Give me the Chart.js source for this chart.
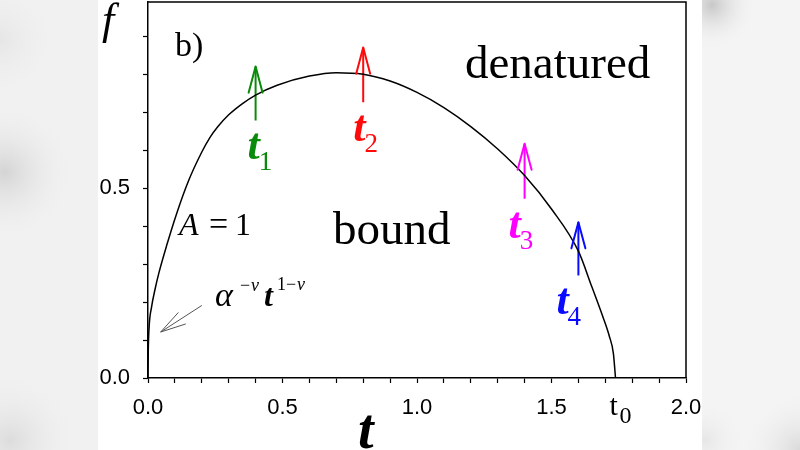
<!DOCTYPE html>
<html><head><meta charset="utf-8">
<script src="https://cdn.jsdelivr.net/npm/chart.js@4.4.1/dist/chart.umd.min.js"></script>
<style>html,body{margin:0;padding:0;background:#fff;overflow:hidden}#wrap{width:800px;height:450px}</style>
</head><body><div id="wrap"><canvas id="c" width="800" height="450"></canvas></div>
<script>
// ---- data ----
const tValues = [0, 0.001, 0.004, 0.013, 0.026, 0.041, 0.069, 0.107, 0.15, 0.2, 0.23, 0.26, 0.3, 0.35, 0.4, 0.48, 0.6, 0.7, 0.8, 0.9, 1.0, 1.1, 1.2, 1.3, 1.4, 1.5, 1.6, 1.65, 1.69, 1.715, 1.73, 1.738];
const fValues = [0, 0.07, 0.132, 0.186, 0.233, 0.278, 0.348, 0.434, 0.518, 0.595, 0.633, 0.662, 0.693, 0.722, 0.745, 0.771, 0.795, 0.804, 0.80, 0.782, 0.752, 0.712, 0.662, 0.603, 0.533, 0.445, 0.334, 0.24, 0.163, 0.11, 0.065, 0];
const arrowNames = ['1', '2', '3', '4'];
const arrowT = [0.4, 0.8, 1.4, 1.6];
const arrowBase = [0.678, 0.726, 0.472, 0.27];
const arrowTip = [0.82, 0.87, 0.617, 0.41];
const pointerFrom = [0.2, 0.191];
const pointerTo = [0.047, 0.121];
const t0Value = 1.738;
const xTickValues = [0, 0.1, 0.2, 0.3, 0.4, 0.5, 0.6, 0.7, 0.8, 0.9, 1.0, 1.1, 1.2, 1.3, 1.4, 1.5, 1.6, 1.7, 1.8, 1.9, 2.0];
const xTickLabelValues = [0, 0.5, 1.0, 1.5, 2.0];
const xTickLabels = ['0.0', '0.5', '1.0', '1.5', '2.0'];
const yTickValues = [0, 0.1, 0.2, 0.3, 0.4, 0.5, 0.6, 0.7, 0.8, 0.9];
const yTickLabelValues = [0, 0.5];
const yTickLabels = ['0.0', '0.5'];

// ---- styles ----
const arrowColors = ['#0a8a0a', '#ff0a0a', '#ff00ff', '#0a0aff'];
const labelDx = [-8, -10, -16, -22];
const SERIF = "'Liberation Serif', 'Times New Roman', serif";
const SANS = "'Liberation Sans', Arial, sans-serif";

function labelFor(v, vals, labels) {
  for (let i = 0; i < vals.length; i++) if (Math.abs(v - vals[i]) < 1e-6) return labels[i];
  return '';
}

const datasets = [{
  data: tValues.map((t, i) => ({x: t, y: fValues[i]})),
  borderColor: '#000', borderWidth: 1.5, pointRadius: 0, fill: false,
  cubicInterpolationMode: 'monotone'
}];
arrowT.forEach((t, i) => datasets.push({
  data: [{x: t, y: arrowBase[i]}, {x: t, y: arrowTip[i]}],
  borderColor: arrowColors[i], borderWidth: 2, pointRadius: 0, fill: false,
  arrowHead: 27, arrowLabel: arrowNames[i], labelIndex: i
}));
datasets.push({
  data: [{x: pointerFrom[0], y: pointerFrom[1]}, {x: pointerTo[0], y: pointerTo[1]}],
  borderColor: '#555', borderWidth: 1, pointRadius: 0, fill: false, arrowHead: 26
});

const bgPlugin = {
  id: 'bg',
  beforeDraw(chart) {
    const ctx = chart.ctx;
    ctx.save();
    ctx.fillStyle = '#fff';
    ctx.fillRect(0, 0, 800, 450);
    ctx.beginPath(); ctx.rect(0, 0, 98, 450); ctx.clip();
    ctx.fillStyle = '#f1f1f1'; ctx.fillRect(0, 0, 98, 450);
    const blobs = [[5, 172, 70, 'rgba(205,205,205,0.8)'], [10, 440, 70, 'rgba(215,215,215,0.8)'], [0, 40, 60, 'rgba(225,225,225,0.7)']];
    blobs.forEach(b => {
      const g = ctx.createRadialGradient(b[0], b[1], 0, b[0], b[1], b[2]);
      g.addColorStop(0, b[3]); g.addColorStop(1, 'rgba(241,241,241,0)');
      ctx.fillStyle = g; ctx.fillRect(0, 0, 98, 450);
    });
    ctx.restore();
  },
  afterDraw(chart) {
    const ctx = chart.ctx;
    ctx.save();
    ctx.beginPath(); ctx.rect(702, 0, 98, 450); ctx.clip();
    ctx.fillStyle = '#f4f4f4'; ctx.fillRect(702, 0, 98, 450);
    const blobs = [[712, 5, 45, 'rgba(195,195,195,0.9)'], [800, 450, 60, 'rgba(215,215,215,0.9)'], [705, 440, 40, 'rgba(225,225,225,0.7)']];
    blobs.forEach(b => {
      const g = ctx.createRadialGradient(b[0], b[1], 0, b[0], b[1], b[2]);
      g.addColorStop(0, b[3]); g.addColorStop(1, 'rgba(244,244,244,0)');
      ctx.fillStyle = g; ctx.fillRect(702, 0, 98, 450);
    });
    ctx.restore();
  }
};

const arrowPlugin = {
  id: 'arrows',
  afterDatasetsDraw(chart) {
    const ctx = chart.ctx;
    ctx.save();
    chart.data.datasets.forEach((ds, i) => {
      if (!ds.arrowHead) return;
      const pts = chart.getDatasetMeta(i).data;
      const tip = pts[pts.length - 1], prev = pts[pts.length - 2];
      const ang = Math.atan2(tip.y - prev.y, tip.x - prev.x);
      const L = ds.arrowHead, spread = 15 * Math.PI / 180;
      ctx.strokeStyle = ds.borderColor; ctx.lineWidth = ds.borderWidth;
      ctx.lineCap = 'round'; ctx.lineJoin = 'round';
      ctx.beginPath();
      ctx.moveTo(tip.x - L * Math.cos(ang - spread), tip.y - L * Math.sin(ang - spread));
      ctx.lineTo(tip.x, tip.y);
      ctx.lineTo(tip.x - L * Math.cos(ang + spread), tip.y - L * Math.sin(ang + spread));
      ctx.stroke();
      if (ds.arrowLabel) {
        const bx = pts[0].x + labelDx[ds.labelIndex], by = pts[0].y + 39;
        ctx.fillStyle = ds.borderColor;
        ctx.textBaseline = 'alphabetic'; ctx.textAlign = 'left';
        ctx.font = 'italic bold 44px ' + SERIF;
        ctx.fillText('t', bx, by);
        const w = ctx.measureText('t').width;
        ctx.font = '27px ' + SERIF;
        ctx.fillText(ds.arrowLabel, bx + w - 1, by + 11);
      }
    });
    ctx.restore();
  }
};

const textPlugin = {
  id: 'texts',
  afterDraw(chart) {
    const ctx = chart.ctx, a = chart.chartArea;
    const xs = chart.scales.x;
    ctx.save();
    ctx.strokeStyle = '#000'; ctx.lineWidth = 1.5;
    ctx.beginPath();
    ctx.moveTo(a.left, a.top); ctx.lineTo(a.right, a.top); ctx.lineTo(a.right, a.bottom);
    ctx.stroke();
    ctx.fillStyle = '#000'; ctx.textBaseline = 'alphabetic'; ctx.textAlign = 'left';
    ctx.font = 'italic 44px ' + SERIF; ctx.fillText('f', 102, 34);
    ctx.font = 'italic bold 56px ' + SERIF; ctx.fillText('t', 358, 448);
    const px0 = xs.getPixelForValue(t0Value);
    ctx.font = '30px ' + SERIF; ctx.fillText('t', px0 - 6, 415);
    ctx.font = '24px ' + SERIF; ctx.fillText('0', px0 + 4, 423);
    ctx.font = '34px ' + SERIF; ctx.fillText('b)', 175, 56);
    ctx.font = '47px ' + SERIF; ctx.fillText('denatured', 465, 78);
    ctx.font = '47px ' + SERIF; ctx.fillText('bound', 333, 244);
    ctx.font = 'italic 32px ' + SERIF; ctx.fillText('A', 179, 235);
    ctx.font = '34px ' + SERIF; ctx.fillText('=', 209, 235);
    ctx.font = '32px ' + SERIF; ctx.fillText('1', 235, 235);
    ctx.font = 'italic 34px ' + SERIF; ctx.fillText('\u03B1', 215, 306);
    ctx.font = '18px ' + SERIF; ctx.fillText('\u2212', 240, 291);
    ctx.font = 'italic 18px ' + SERIF; ctx.fillText('\u03BD', 251, 291);
    ctx.font = 'italic bold 32px ' + SERIF; ctx.fillText('t', 264, 306);
    ctx.font = '18px ' + SERIF; ctx.fillText('1\u2212', 277, 290);
    ctx.font = 'italic 18px ' + SERIF; ctx.fillText('\u03BD', 297, 290);
    ctx.restore();
  }
};

new Chart(document.getElementById('c'), {
  type: 'line',
  data: {datasets},
  options: {
    responsive: false, animation: false, devicePixelRatio: 1,
    layout: {padding: {top: 2, right: 114, left: 0, bottom: 0}},
    plugins: {legend: {display: false}, tooltip: {enabled: false}},
    scales: {
      x: {
        type: 'linear', min: 0, max: 2,
        afterBuildTicks: s => { s.ticks = xTickValues.map(v => ({value: v})); },
        afterFit: s => { s.height = 72; s.paddingLeft = 0; s.paddingRight = 0; },
        ticks: {autoSkip: false, maxRotation: 0, padding: 12, color: '#000',
          font: {family: SANS, size: 22},
          callback: v => labelFor(v, xTickLabelValues, xTickLabels)},
        grid: {display: true, drawOnChartArea: false, drawTicks: true, tickLength: 5, tickColor: '#000', tickWidth: 1.2},
        border: {display: true, color: '#000', width: 1.5}
      },
      y: {
        type: 'linear', min: 0, max: 0.99,
        afterBuildTicks: s => { s.ticks = yTickValues.map(v => ({value: v})); },
        afterFit: s => { s.width = 148; s.paddingTop = 0; s.paddingBottom = 0; },
        ticks: {autoSkip: false, padding: 13, color: '#000',
          font: {family: SANS, size: 22},
          callback: v => labelFor(v, yTickLabelValues, yTickLabels)},
        grid: {display: true, drawOnChartArea: false, drawTicks: true, tickLength: 5, tickColor: '#000', tickWidth: 1.2},
        border: {display: true, color: '#000', width: 1.5}
      }
    }
  },
  plugins: [bgPlugin, arrowPlugin, textPlugin]
});
</script></body></html>
